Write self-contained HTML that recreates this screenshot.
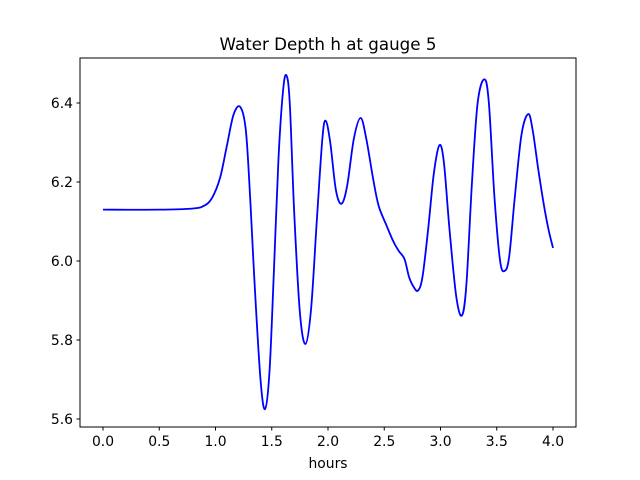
<!DOCTYPE html>
<html><head><meta charset="utf-8"><style>
html,body{margin:0;padding:0;background:#fff;}
svg{display:block;font-family:"DejaVu Sans","Liberation Sans",sans-serif;}
</style></head><body>
<svg id="chart" width="640" height="480" viewBox="0 0 640 480">
<rect width="640" height="480" fill="#fff"/>
<text x="328" y="50" font-size="16.7" text-anchor="middle">Water Depth h at gauge 5</text>
<g id="plot"></g>
<rect x="80" y="58" width="496" height="369" fill="none" stroke="#000" stroke-width="1"/>
<text x="328" y="468" font-size="13.9" text-anchor="middle">hours</text>
</svg>
<script>
const hours=[0,0.5,0.8,0.9,0.97,1.04,1.1,1.16,1.22,1.27,1.31,1.35,1.40,1.44,1.48,1.52,1.56,1.60,1.63,1.66,1.70,1.75,1.80,1.85,1.90,1.95,1.98,2.02,2.07,2.12,2.17,2.23,2.29,2.34,2.40,2.45,2.52,2.58,2.63,2.68,2.72,2.76,2.80,2.84,2.89,2.94,2.99,3.03,3.08,3.14,3.19,3.23,3.28,3.33,3.39,3.43,3.48,3.53,3.57,3.61,3.66,3.72,3.78,3.82,3.87,3.92,3.96,4.0];
const depth=[6.13,6.13,6.133,6.14,6.16,6.21,6.29,6.37,6.39,6.33,6.15,5.93,5.70,5.625,5.72,5.98,6.26,6.43,6.47,6.40,6.12,5.87,5.79,5.88,6.10,6.31,6.355,6.30,6.18,6.145,6.19,6.31,6.362,6.31,6.21,6.14,6.09,6.05,6.025,6.005,5.96,5.935,5.925,5.96,6.08,6.22,6.293,6.25,6.08,5.91,5.862,5.94,6.20,6.40,6.46,6.40,6.16,6.00,5.975,6.01,6.16,6.32,6.372,6.33,6.23,6.14,6.08,6.033];
const xTicks=[0,0.5,1,1.5,2,2.5,3,3.5,4];
const xTickLabels=["0.0","0.5","1.0","1.5","2.0","2.5","3.0","3.5","4.0"];
const yTicks=[5.6,5.8,6.0,6.2,6.4];
const yTickLabels=["5.6","5.8","6.0","6.2","6.4"];
const NS="http://www.w3.org/2000/svg";
const X=v=>103+v*112.5;
const Y=v=>261-(v-6.0)*395;
const g=document.getElementById('plot');
function mk(t,a){const e=document.createElementNS(NS,t);for(const k in a)e.setAttribute(k,a[k]);return e;}
xTicks.forEach((t,i)=>{
  const l=mk('line',{x1:X(t),x2:X(t),y1:427,y2:430.5,stroke:'#000'});
  
  
  g.appendChild(l);
  const tx=mk('text',{x:X(t),y:446,'font-size':13.9,'text-anchor':'middle'});
  tx.textContent=xTickLabels[i];
  
  
  g.appendChild(tx);
});
yTicks.forEach((t,i)=>{
  const l=mk('line',{x1:76.5,x2:80,y1:Y(t),y2:Y(t),stroke:'#000'});
  
  
  g.appendChild(l);
  const tx=mk('text',{x:73,y:Y(t)+5,'font-size':13.9,'text-anchor':'end'});
  tx.textContent=yTickLabels[i];
  
  
  g.appendChild(tx);
});
const P=hours.map((h,i)=>[X(h),Y(depth[i])]);
let d='M'+P[0][0]+','+P[0][1];
for(let i=0;i<P.length-1;i++){
  const p0=P[i-1]||P[i],p1=P[i],p2=P[i+1],p3=P[i+2]||P[i+1];
  const c1=[p1[0]+(p2[0]-p0[0])/6,p1[1]+(p2[1]-p0[1])/6];
  const c2=[p2[0]-(p3[0]-p1[0])/6,p2[1]-(p3[1]-p1[1])/6];
  d+=' C'+c1+' '+c2+' '+p2;
}
const path=mk('path',{d:d,fill:'none',stroke:'#0000ff','stroke-width':1.8});


g.appendChild(path);
</script>
</body></html>
